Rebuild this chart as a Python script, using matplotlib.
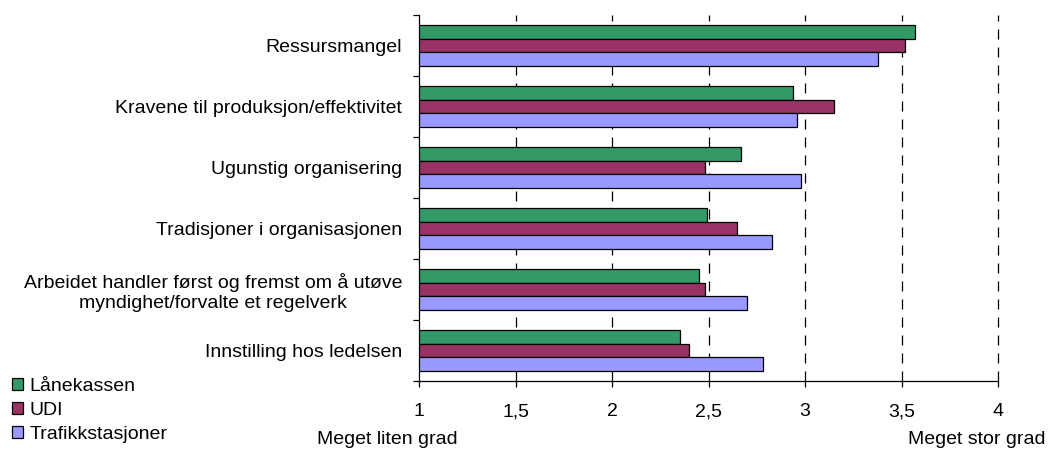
import matplotlib
matplotlib.use("Agg")
import matplotlib.pyplot as plt
from matplotlib.patches import Patch
import numpy as np

plt.rcParams["font.family"] = ["Liberation Sans", "DejaVu Sans"]

categories = [
    "Ressursmangel",
    "Kravene til produksjon/effektivitet",
    "Ugunstig organisering",
    "Tradisjoner i organisasjonen",
    "Arbeidet handler først og fremst om å utøve\nmyndighet/forvalte et regelverk",
    "Innstilling hos ledelsen",
]
series_names = ["Lånekassen", "UDI", "Trafikkstasjoner"]
lanekassen = [3.57, 2.94, 2.67, 2.49, 2.45, 2.35]
udi = [3.52, 3.15, 2.48, 2.65, 2.48, 2.40]
trafikk = [3.38, 2.96, 2.98, 2.83, 2.70, 2.78]
x_ticks = [1, 1.5, 2, 2.5, 3, 3.5, 4]
x_ticklabels = ["1", "1,5", "2", "2,5", "3", "3,5", "4"]

colors = ["#339966", "#993366", "#9999FF"]

W, H = 1049, 450
fig = plt.figure(figsize=(W / 100, H / 100), dpi=100)
ax = fig.add_axes([419 / W, 1 - 381 / H, (998 - 419) / W, (381 - 15) / H])

y = np.arange(len(categories))
bh = 0.222
for i, (vals, col, name) in enumerate(zip([lanekassen, udi, trafikk], colors, series_names)):
    ax.barh(y + (i - 1) * bh, np.array(vals) - 1, left=1, height=bh,
            color=col, edgecolor="black", linewidth=0.9, label=name, zorder=3)

ax.set_xlim(1, 4)
ax.set_ylim(len(categories) - 0.5, -0.5)

ax.set_xticks(x_ticks)
ax.set_xticklabels(x_ticklabels, fontsize=14)
ax.tick_params(axis="x", direction="out", length=4, width=0.9, pad=12)

ax.set_yticks(y)
ax.set_yticklabels(categories, fontsize=14, multialignment="center")
ax.set_yticks(np.arange(-0.5, len(categories)), minor=True)
ax.tick_params(axis="y", which="major", length=0, pad=12)
ax.tick_params(axis="y", which="minor", direction="out", length=4, width=0.9)

# dashed gridlines, the one at 4 sits on the axes edge so don't clip it
for xv in x_ticks[1:]:
    ax.axvline(xv, color="black", linestyle=(0, (8, 6.4)), linewidth=0.9,
               zorder=1, clip_on=False)

for side in ["top", "right"]:
    ax.spines[side].set_visible(False)
for side in ["left", "bottom"]:
    ax.spines[side].set_linewidth(0.9)

fig.text(387 / W, 1 - 439 / H, "Meget liten grad", fontsize=14, ha="center", va="center")
fig.text(1045 / W, 1 - 439 / H, "Meget stor grad", fontsize=14, ha="right", va="center")

handles = [Patch(facecolor=c, edgecolor="black", linewidth=0.9) for c in colors]
fig.legend(handles, series_names, loc="lower left", bbox_to_anchor=(0.0, -0.01),
           frameon=False, fontsize=14, handlelength=0.6, handleheight=0.6,
           handletextpad=0.3, labelspacing=0.35, borderaxespad=0.2)

fig.savefig("out.png", dpi=100)
